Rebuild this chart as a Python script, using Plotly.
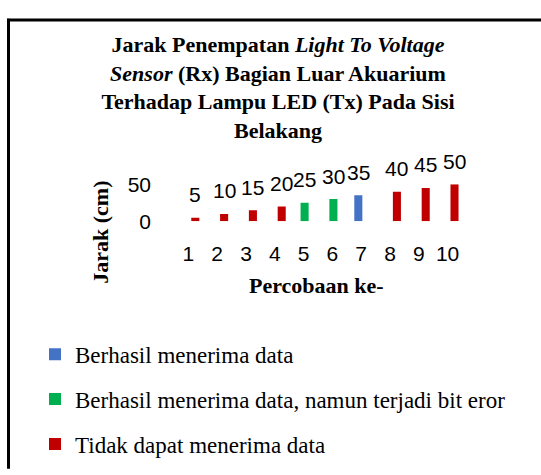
import plotly.graph_objects as go

# ---- data ----
categories = ['1', '2', '3', '4', '5', '6', '7', '8', '9', '10']
jarak = [5, 10, 15, 20, 25, 30, 35, 40, 45, 50]
berhasil = [None, None, None, None, None, None, 35, None, None, None]
bit_eror = [None, None, None, None, 25, 30, None, None, None, None]
tidak = [5, 10, 15, 20, None, None, None, 40, 45, 50]
y_ticks = [0, 50]
series_names = ['Berhasil menerima data',
                'Berhasil menerima data, namun terjadi bit eror',
                'Tidak dapat menerima data']
colors = ['#4472C4', '#00B050', '#C00000']

W, H = 541, 475
L, R, T, B = 174, 462, 181, 220
SERIF = 'Liberation Serif, Times New Roman, serif'
SANS = 'Liberation Sans, Arial, sans-serif'


def px(x):
    return x / W


def py(y):
    return 1 - y / H


xpos = [i + 1 for i in range(len(categories))]
bar_w = 0.28
offsets = [-0.24, -0.105, 0.10]

fig = go.Figure()
for name, vals, col, off in zip(series_names, [berhasil, bit_eror, tidak], colors, offsets):
    fig.add_trace(go.Bar(
        x=xpos, y=vals, name=name, width=bar_w, offset=off,
        marker=dict(color=col, line=dict(width=0)),
        legendgroup=name,
    ))

annotations = []
for i, v in enumerate(jarak):
    for vals, off in zip([berhasil, bit_eror, tidak], offsets):
        if vals[i] is not None:
            annotations.append(dict(
                x=xpos[i] + off + bar_w / 2, y=vals[i], xref='x', yref='y',
                text=str(v), showarrow=False, yshift=23,
                xanchor='center', yanchor='middle',
                font=dict(family=SANS, size=21, color='#000')))

annotations.append(dict(
    x=px(101), y=py(232), xref='paper', yref='paper', text='<b>Jarak (cm)</b>',
    textangle=-90, showarrow=False, xanchor='center', yanchor='middle',
    font=dict(family=SERIF, size=22, color='#000')))
annotations.append(dict(
    x=px(316), y=py(287), xref='paper', yref='paper', text='<b>Percobaan ke-</b>',
    showarrow=False, xanchor='center', yanchor='middle',
    font=dict(family=SERIF, size=22, color='#000')))

shapes = [
    dict(type='line', xref='paper', yref='paper', x0=px(7), x1=px(545), y0=py(8.5), y1=py(8.5),
         line=dict(color='#000', width=3)),
    dict(type='line', xref='paper', yref='paper', x0=px(8.5), x1=px(8.5), y0=py(7), y1=py(480),
         line=dict(color='#000', width=3)),
]

title_text = ('<b>Jarak Penempatan <i>Light To Voltage</i><br>'
              '<i>Sensor</i> (Rx) Bagian Luar Akuarium<br>'
              'Terhadap Lampu LED (Tx) Pada Sisi<br>'
              'Belakang</b>')

fig.update_layout(
    width=W, height=H,
    margin=dict(l=0, r=0, t=0, b=0, pad=0),
    paper_bgcolor='white', plot_bgcolor='white',
    barmode='overlay',
    title=dict(text=title_text, x=278 / W, xanchor='center', xref='container',
               y=1 - 52 / H, yanchor='top', yref='container',
               font=dict(family=SERIF, size=22, color='#000')),
    xaxis=dict(domain=[L / W, R / W], range=[0.5, 10.5], tickvals=xpos, ticktext=categories,
               showgrid=False, zeroline=False, showline=False, ticks='', ticklabelstandoff=18,
               tickfont=dict(family=SANS, size=21, color='#000')),
    yaxis=dict(domain=[1 - B / H, 1 - T / H], range=[0, 50], tickvals=y_ticks,
               showgrid=True, gridcolor='#D9D9D9', gridwidth=1.5,
               zeroline=False, showline=False, ticks='', ticklabelstandoff=22,
               tickfont=dict(family=SANS, size=21, color='#000')),
    legend=dict(x=px(35), y=py(337), xanchor='left', yanchor='top',
                orientation='v', tracegroupgap=12, bgcolor='rgba(0,0,0,0)',
                font=dict(family=SERIF, size=23, color='#000')),
    annotations=annotations,
    shapes=shapes,
    showlegend=True,
)

fig.write_html('out.html', config={'displayModeBar': False},
               post_script="document.body.style.margin='0';document.body.style.overflow='hidden';")
